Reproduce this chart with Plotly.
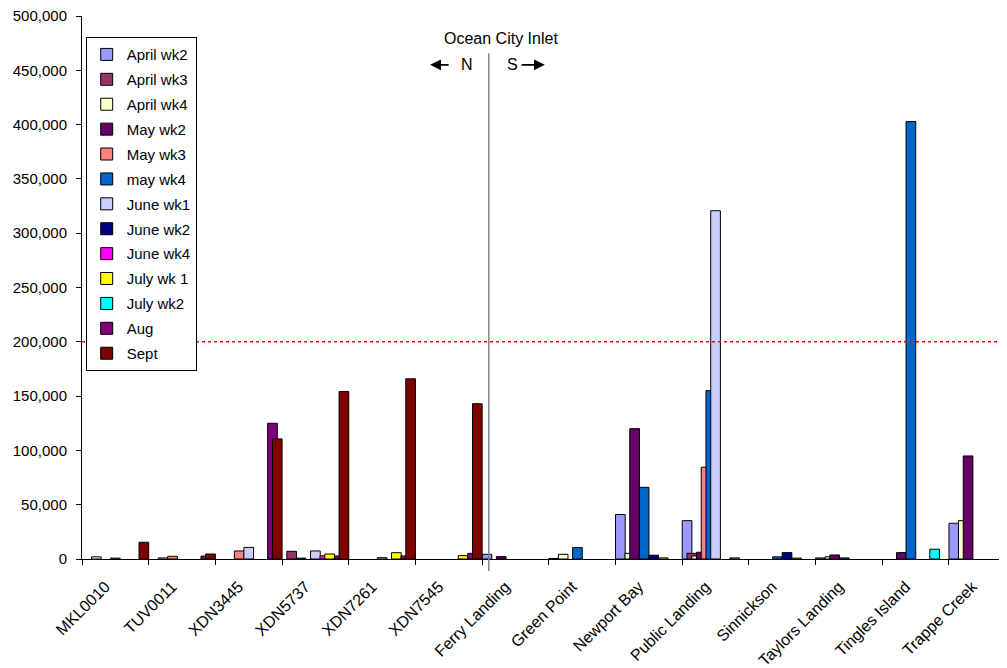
import plotly.graph_objects as go

sites = ['MKL0010', 'TUV0011', 'XDN3445', 'XDN5737', 'XDN7261', 'XDN7545',
         'Ferry Landing', 'Green Point', 'Newport Bay', 'Public Landing',
         'Sinnickson', 'Taylors Landing', 'Tingles Island', 'Trappe Creek']

april_wk2 = [None, None, None, None, None, None, 4300, 500, 41000, 35300, None, 1000, None, 32900]
april_wk3 = [None, None, None, 7100, None, None, None, None, None, 5200, None, None, None, None]
april_wk4 = [2000, 1000, None, None, None, None, None, 4300, 5200, 2800, None, 2000, None, 35300]
may_wk2 = [None, None, None, 800, None, None, 2200, None, 120000, 6200, None, 3700, 5900, 94900]
may_wk3 = [None, 2500, 7400, None, None, None, None, None, None, 84500, None, None, None, None]
may_wk4 = [None, None, None, None, None, None, None, 10500, 66000, 155000, 2000, 1000, 402800, None]
june_wk1 = [800, None, 10700, 7400, 1200, None, None, None, None, 320700, None, None, None, None]
june_wk2 = [None, None, None, None, None, None, None, None, 3500, None, 5900, None, None, None]
june_wk4 = [None, None, None, 3000, None, None, None, None, None, None, None, None, None, None]
july_wk1 = [None, None, None, 4600, 5800, 3100, None, None, 1000, None, 800, None, None, None]
july_wk2 = [None, None, None, None, None, None, None, None, None, 1000, None, None, 9000, None]
aug = [None, 2700, 125000, 2800, 2800, 5200, None, None, None, None, None, None, None, None]
sept = [15400, 4600, 110600, 154200, 165900, 143000, None, None, None, None, None, None, None, None]

series_names = ['April wk2', 'April wk3', 'April wk4', 'May wk2', 'May wk3', 'may wk4',
                'June wk1', 'June wk2', 'June wk4', 'July wk 1', 'July wk2', 'Aug', 'Sept']
series_values = [april_wk2, april_wk3, april_wk4, may_wk2, may_wk3, may_wk4,
                 june_wk1, june_wk2, june_wk4, july_wk1, july_wk2, aug, sept]

COLORS = ['#9999FF', '#993366', '#FFFFCC', '#660066', '#FF8080', '#0066CC',
          '#CCCCFF', '#000080', '#FF00FF', '#FFFF00', '#00FFFF', '#800080', '#800000']

FONT = 'Liberation Sans, Arial, sans-serif'

# excel-style overlapping bars: each series shifted a bit, later ones drawn on top
BAR_W = 0.145
STEP = (1.0 - BAR_W) / 12

fig = go.Figure()

for i, (name, vals) in enumerate(zip(series_names, series_values)):
    fig.add_trace(go.Bar(
        x=sites,
        y=vals,
        name=name,
        width=BAR_W,
        offset=-0.5 + i * STEP,
        marker=dict(color=COLORS[i], line=dict(color='black', width=1)),
        legendgroup=name
    ))

# 200,000 threshold
fig.add_shape(type='line', xref='paper', yref='y', x0=0, x1=1, y0=200000, y1=200000,
              line=dict(color='red', width=1.5, dash='dot'))

# Ocean City Inlet divider
inlet_x = 5.6
fig.add_shape(type='line', xref='x', yref='paper', x0=inlet_x, x1=inlet_x, y0=-0.022, y1=0.931,
              line=dict(color='#808080', width=1.5))

label_font = dict(size=16, color='black')
fig.add_annotation(x=5.78, y=0.958, xref='x', yref='paper', text='Ocean City Inlet',
                   showarrow=False, xanchor='center', yanchor='middle', font=label_font)
fig.add_annotation(x=5.27, y=0.91, xref='x', yref='paper', text='N',
                   showarrow=False, xanchor='center', yanchor='middle', font=label_font)
fig.add_annotation(x=5.95, y=0.91, xref='x', yref='paper', text='S',
                   showarrow=False, xanchor='center', yanchor='middle', font=label_font)
for tip, tail in [(4.72, 5.02), (6.44, 6.07)]:
    fig.add_annotation(x=tip, y=0.91, ax=tail, ay=0, xref='x', yref='paper',
                       axref='x', ayref='pixel', text='', showarrow=True,
                       arrowhead=2, arrowsize=1.2, arrowwidth=1.8, arrowcolor='black')

# page body adds 8px around the figure, so margins are trimmed to match
fig.update_layout(
    width=999,
    height=660,
    barmode='overlay',
    plot_bgcolor='white',
    paper_bgcolor='white',
    font=dict(family=FONT, size=15, color='black'),
    margin=dict(l=74, r=0, t=8, b=109),
    showlegend=True,
    legend=dict(
        x=0.004, y=0.961, xanchor='left', yanchor='top',
        bgcolor='white', bordercolor='black', borderwidth=1,
        font=dict(size=15), tracegroupgap=2.4, traceorder='grouped'
    ),
    xaxis=dict(
        range=[-0.5, 13.37],
        showline=True, linecolor='black', linewidth=1,
        ticks='outside', ticklen=5, tickcolor='black', tickson='boundaries',
        tickangle=-45, showgrid=False, automargin=False,
        tickfont=dict(size=16), ticklabelstandoff=11, ticklabelshift=-10
    ),
    yaxis=dict(
        range=[0, 500000],
        tickvals=list(range(0, 500001, 50000)), tickformat=',',
        showline=True, linecolor='black', linewidth=1,
        ticks='outside', ticklen=5, tickcolor='black',
        showgrid=False, zeroline=False, automargin=False,
        tickfont=dict(size=15), ticklabelstandoff=6, ticklabeloverflow='allow'
    )
)

fig.write_html('out.html')
